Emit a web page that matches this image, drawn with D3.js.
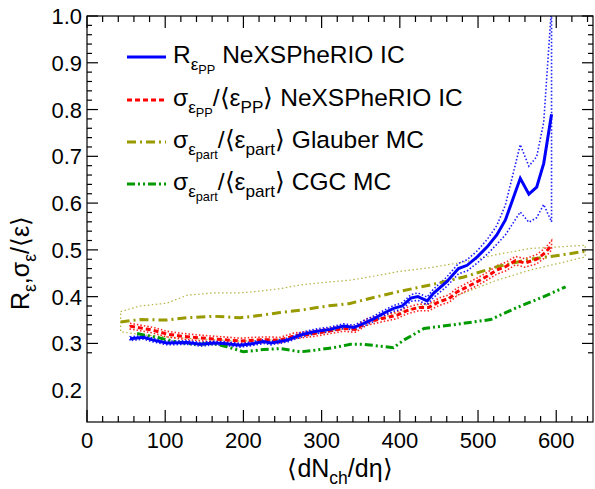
<!DOCTYPE html>
<html><head><meta charset="utf-8">
<script src="https://cdn.jsdelivr.net/npm/d3@7"></script>
<style>body{margin:0;background:#fff}svg{display:block}text{font-family:"Liberation Sans",Arial,Helvetica,sans-serif;fill:#000}</style>
</head><body>
<script>
// ---- data ----
const blueX = [55,72,85,102,128,145,162,175,196,213,226,235,256,273,290,311,328,341,354,367,380,392,403,414,423,435,443,460,475,486,499,512,524,535,554,565,575,584,594];
const blueY = [0.310,0.313,0.307,0.301,0.302,0.298,0.301,0.300,0.296,0.300,0.304,0.301,0.307,0.318,0.325,0.330,0.337,0.334,0.343,0.353,0.365,0.375,0.380,0.397,0.400,0.391,0.407,0.432,0.460,0.467,0.485,0.507,0.532,0.564,0.653,0.619,0.634,0.685,0.790];
const blueErr = [0.004,0.004,0.004,0.004,0.004,0.004,0.004,0.004,0.004,0.004,0.004,0.004,0.004,0.005,0.005,0.005,0.005,0.005,0.006,0.006,0.006,0.006,0.007,0.007,0.008,0.008,0.009,0.010,0.011,0.012,0.013,0.016,0.020,0.032,0.072,0.060,0.065,0.088,0.230];

const redX = [55,72,85,102,119,136,158,175,196,213,230,247,264,290,311,328,343,358,382,396,409,424,437,450,463,473,486,499,512,524,535,548,560,575,586,594];
const redY = [0.337,0.332,0.328,0.320,0.316,0.313,0.310,0.308,0.305,0.307,0.308,0.307,0.316,0.321,0.327,0.332,0.330,0.346,0.355,0.360,0.370,0.377,0.377,0.389,0.396,0.410,0.421,0.432,0.444,0.457,0.464,0.477,0.472,0.480,0.494,0.510];
const redErr = [0.006,0.006,0.006,0.006,0.006,0.006,0.006,0.006,0.006,0.006,0.006,0.006,0.006,0.006,0.006,0.006,0.006,0.007,0.007,0.007,0.007,0.007,0.007,0.008,0.008,0.008,0.008,0.008,0.008,0.009,0.009,0.009,0.009,0.010,0.010,0.010];

const glauberX = [43,68,102,128,162,196,222,247,273,307,335,354,396,439,482,524,567,610,637];
const glauberY = [0.346,0.351,0.350,0.355,0.358,0.355,0.360,0.366,0.371,0.380,0.385,0.393,0.410,0.425,0.442,0.464,0.480,0.490,0.497];
const glauberHi = [0.368,0.380,0.386,0.403,0.408,0.408,0.412,0.417,0.425,0.431,0.435,0.440,0.453,0.462,0.474,0.490,0.503,0.507,0.510];
const glauberLo = [0.325,0.319,0.314,0.311,0.308,0.305,0.306,0.309,0.315,0.325,0.333,0.342,0.365,0.385,0.408,0.435,0.457,0.474,0.485];

const cgcX = [64,89,115,141,162,179,200,226,247,273,294,315,337,354,392,405,431,469,516,550,584,612];
const cgcY = [0.321,0.313,0.303,0.298,0.300,0.293,0.282,0.287,0.289,0.282,0.286,0.291,0.298,0.298,0.291,0.307,0.332,0.340,0.351,0.377,0.400,0.421];

const xTicks = [0,100,200,300,400,500,600];
const yTicks = [0.2,0.3,0.4,0.5,0.6,0.7,0.8,0.9,1.0];

// ---- layout ----
const W = 595, H = 489;
const L = 87, R = 593, T = 16, B = 422;
const x = d3.scaleLinear().domain([0, 647]).range([L, R]);
const y = d3.scaleLinear().domain([0.132, 1.0]).range([B, T]);

const svg = d3.select("body").append("svg").attr("width", W).attr("height", H);
svg.append("defs").append("clipPath").attr("id","clip")
  .append("rect").attr("x",L).attr("y",T).attr("width",R-L).attr("height",B-T);

const COL = {blue:"#0000ff", red:"#ff0000", olive:"#999900", green:"#009900"};
const DASH = {solid:null, dash:"5,3", dashdot:"9,4,2,4", dashdotdot:"8,3,2,3,2,3"};

const g = svg.append("g").attr("clip-path","url(#clip)");
const line = d3.line().x(d=>x(d[0])).y(d=>y(d[1]));

function band(xs, lo, hi, color, width, dash, opacity) {
  const pts = xs.map((v,i)=>[v,hi[i]]).concat(xs.map((v,i)=>[v,lo[i]]).reverse());
  g.append("path").attr("d", line(pts) + "Z").attr("fill","none")
    .attr("stroke",color).attr("stroke-width",width).attr("stroke-dasharray",dash)
    .attr("stroke-opacity",opacity);
}
function curve(xs, ys, color, width, dash) {
  g.append("path").attr("d", line(xs.map((v,i)=>[v,ys[i]]))).attr("fill","none")
    .attr("stroke",color).attr("stroke-width",width).attr("stroke-dasharray",dash);
}

// bands
band(glauberX, glauberLo, glauberHi, COL.olive, 1.2, "1.5,2.5", 0.75);
band(redX, redX.map((v,i)=>redY[i]-redErr[i]), redX.map((v,i)=>redY[i]+redErr[i]), COL.red, 1.6, "1.5,2", 0.85);
band(blueX, blueX.map((v,i)=>blueY[i]-blueErr[i]), blueX.map((v,i)=>blueY[i]+blueErr[i]), COL.blue, 1.6, "1.5,2", 0.9);

// central curves
curve(glauberX, glauberY, COL.olive, 3, DASH.dashdot);
curve(cgcX, cgcY, COL.green, 3, DASH.dashdotdot);
curve(redX, redY, COL.red, 3, DASH.dash);
curve(blueX, blueY, COL.blue, 3, null);

// ---- axes / frame ----
const ax = svg.append("g").attr("stroke","#000").attr("stroke-width",1.2).attr("fill","none");
ax.append("rect").attr("x",L).attr("y",T).attr("width",R-L).attr("height",B-T);
const xMinor = d3.range(0, 648, 20);
xMinor.forEach(v=>{
  const major = v % 100 === 0;
  const len = major ? 12 : 6;
  ax.append("line").attr("x1",x(v)).attr("x2",x(v)).attr("y1",B).attr("y2",B-len);
  ax.append("line").attr("x1",x(v)).attr("x2",x(v)).attr("y1",T).attr("y2",T+len);
});
const yMinor = d3.range(14, 51).map(k=>k/50);
yMinor.forEach(v=>{
  const major = Math.abs(v*10 - Math.round(v*10)) < 1e-6;
  const len = major ? 11 : 5;
  ax.append("line").attr("y1",y(v)).attr("y2",y(v)).attr("x1",L).attr("x2",L+len);
  ax.append("line").attr("y1",y(v)).attr("y2",y(v)).attr("x1",R).attr("x2",R-len);
});

svg.selectAll(".xt").data(xTicks).enter().append("text")
  .attr("x",d=>x(d)).attr("y",448).attr("text-anchor","middle").attr("font-size",22).text(d=>d);
svg.selectAll(".yt").data(yTicks).enter().append("text")
  .attr("x",82).attr("y",d=>y(d)+8).attr("text-anchor","end").attr("font-size",22).text(d=>d.toFixed(1));

// rich text helper: segments [text, level]
function rich(sel, segs, base) {
  const sizes = [base, base*0.7, base*0.52];
  const offs = [0, base*0.28, base*0.45];
  let cur = 0;
  segs.forEach(([t, lv])=>{
    sel.append("tspan").attr("font-size", sizes[lv]).attr("dy", offs[lv]-cur).text(t);
    cur = offs[lv];
  });
  return sel;
}

// axis titles
rich(svg.append("text").attr("x",340).attr("y",477).attr("text-anchor","middle"),
  [["⟨dN",0],["ch",1],["/dη⟩",0]], 25);
rich(svg.append("text").attr("transform","translate(29,263) rotate(-90)").attr("text-anchor","middle"),
  [["R",0],["ε",1],[",σ",0],["ε",1],["/⟨ε⟩",0]], 25);

// ---- legend ----
const legend = [
  {color:COL.blue, dash:null, y:57, segs:[["R",0],["ε",1],["PP",2],[" NeXSPheRIO IC",0]]},
  {color:COL.red, dash:DASH.dash, y:100, segs:[["σ",0],["ε",1],["PP",2],["/⟨ε",0],["PP",1],["⟩ NeXSPheRIO IC",0]]},
  {color:COL.olive, dash:DASH.dashdot, y:142, segs:[["σ",0],["ε",1],["part",2],["/⟨ε",0],["part",1],["⟩ Glauber MC",0]]},
  {color:COL.green, dash:DASH.dashdotdot, y:184, segs:[["σ",0],["ε",1],["part",2],["/⟨ε",0],["part",1],["⟩ CGC MC",0]]}
];
legend.forEach(e=>{
  svg.append("line").attr("x1",127).attr("x2",166).attr("y1",e.y).attr("y2",e.y)
    .attr("stroke",e.color).attr("stroke-width",3).attr("stroke-dasharray",e.dash);
  rich(svg.append("text").attr("x",173).attr("y",e.y+6), e.segs, 24.5);
});
</script>
</body></html>
